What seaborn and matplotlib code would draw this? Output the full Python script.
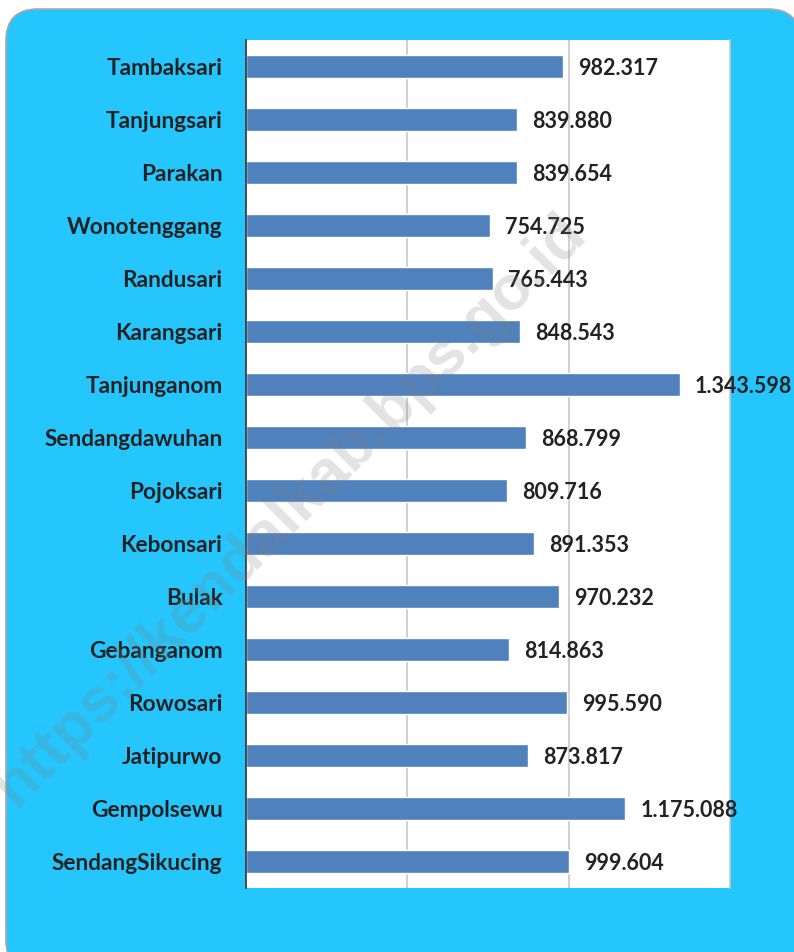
import matplotlib
matplotlib.use("Agg")
import matplotlib.pyplot as plt
import seaborn as sns
import pandas as pd
from matplotlib.patches import FancyBboxPatch

categories = ["Tambaksari", "Tanjungsari", "Parakan", "Wonotenggang", "Randusari",
              "Karangsari", "Tanjunganom", "Sendangdawuhan", "Pojoksari", "Kebonsari",
              "Bulak", "Gebanganom", "Rowosari", "Jatipurwo", "Gempolsewu", "SendangSikucing"]
values = [982317, 839880, 839654, 754725, 765443, 848543, 1343598, 868799, 809716,
          891353, 970232, 814863, 995590, 873817, 1175088, 999604]
value_labels = ["982.317", "839.880", "839.654", "754.725", "765.443", "848.543",
                "1.343.598", "868.799", "809.716", "891.353", "970.232", "814.863",
                "995.590", "873.817", "1.175.088", "999.604"]

df = pd.DataFrame({"desa": categories, "nilai": values})

sns.set_theme(style="white")
plt.rcParams['font.family'] = ['Lato', 'DejaVu Sans']

W, H = 794, 952
fig = plt.figure(figsize=(W / 100, H / 100), dpi=100)
fig.patch.set_facecolor("white")

# rounded blue panel
panel = FancyBboxPatch((6 / W, -20 / H), (800 - 6) / W, (943 + 20) / H,
                       boxstyle="round,pad=0,rounding_size=0.04",
                       transform=fig.transFigure, facecolor="#25C6FE",
                       edgecolor="#A8A8A8", linewidth=1.2, zorder=-5,
                       mutation_aspect=W / H)
fig.patches.append(panel)

ax = fig.add_axes([246 / W, (H - 888) / H, (730 - 246) / W, (888 - 40) / H])
ax.set_zorder(1)
ax.set_facecolor("white")
sns.barplot(data=df, x="nilai", y="desa", orient="h", color="#4F81BD",
            width=0.42, ax=ax, saturation=1)
ax.set_xlim(0, 1500000)
ax.set_ylim(15.5, -0.5)
ax.set_xticks([500000, 1000000])
ax.set_xticklabels([])
ax.tick_params(axis="x", length=0)
ax.tick_params(axis="y", length=0, pad=17)
ax.xaxis.grid(True, color="#C8C8C8", linewidth=1.2)
ax.set_axisbelow(True)
ax.set_xlabel("")
ax.set_ylabel("")
for lbl in ax.get_yticklabels():
    lbl.set_fontsize(16.3)
    lbl.set_fontweight("bold")
    lbl.set_color("#222222")
for s in ["top", "bottom"]:
    ax.spines[s].set_visible(False)
ax.spines["right"].set_color("#C8C8C8")
ax.spines["right"].set_linewidth(1.2)
ax.spines["left"].set_color("#333333")
ax.spines["left"].set_linewidth(1.2)

for i, (v, t) in enumerate(zip(values, value_labels)):
    ax.annotate(t, xy=(v, i), xytext=(11, -1.5), textcoords="offset points",
                ha="left", va="center", fontsize=15.5, fontweight="bold",
                color="#222222", annotation_clip=False, zorder=5)

wm = fig.text(290 / W, (H - 510) / H, "https://kendalkab.bps.go.id", rotation=45,
              rotation_mode="anchor", ha="center", va="center", fontsize=45,
              fontweight="bold", family=["Liberation Sans", "DejaVu Sans"],
              color="#808080", alpha=0.22, zorder=10)

fig.savefig("out.png", dpi=100)
